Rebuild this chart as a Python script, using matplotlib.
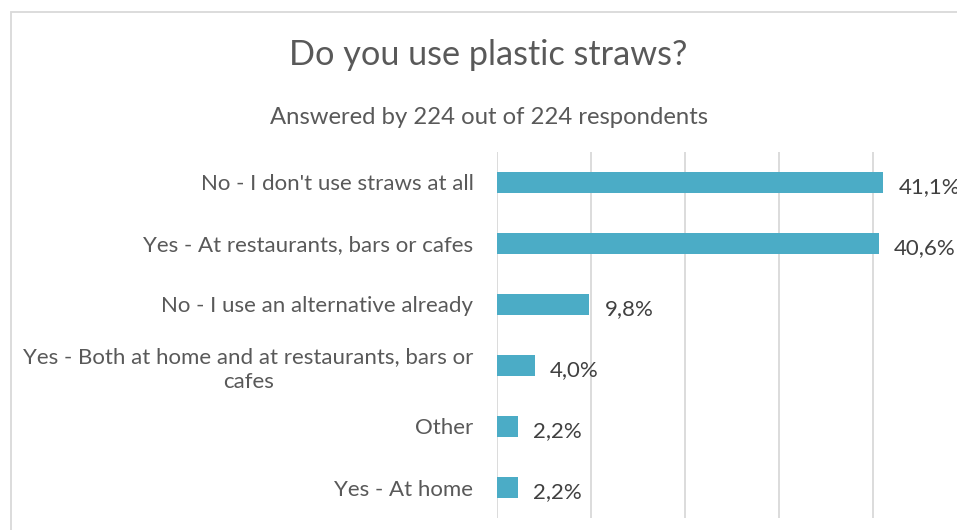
import matplotlib.pyplot as plt
from matplotlib.patches import Rectangle

# survey answers, top to bottom
answers = [
    "No - I don't use straws at all",
    "Yes - At restaurants, bars or cafes",
    "No - I use an alternative already",
    "Yes - Both at home and at restaurants, bars or\ncafes",
    "Other",
    "Yes - At home",
]
shares = [41.1, 40.6, 9.8, 4.0, 2.2, 2.2]
grid_ticks = [0, 10, 20, 30, 40, 50]

plt.rcParams['font.family'] = ['Lato', 'DejaVu Sans']
text_grey = '#595959'
bar_blue = '#4BACC6'
line_grey = '#D9D9D9'

W, H = 957, 530
fig = plt.figure(figsize=(W / 100, H / 100), dpi=100)

# chart frame (runs off the right and bottom of the image)
fig.patches.append(Rectangle((11 / W, -0.1), 1.2, 1 - 12 / H + 0.1,
                             transform=fig.transFigure, fill=False,
                             edgecolor=line_grey, linewidth=1.3))

ax = fig.add_axes([497 / W, 1 - 518 / H, 470 / W, 366 / H])
ypos = list(range(len(answers)))
ax.barh(ypos, shares, height=0.34, color=bar_blue, zorder=3)
ax.set_xlim(0, 50)
ax.set_ylim(len(answers) - 0.5, -0.5)
ax.set_xticks(grid_ticks)
ax.grid(axis='x', color=line_grey, linewidth=1.3, zorder=0)
ax.set_axisbelow(True)
ax.tick_params(axis='x', length=0, labelbottom=False)
ax.tick_params(axis='y', length=0, pad=17)
ax.set_yticks(ypos)
ax.set_yticklabels(answers, fontsize=16, color=text_grey, multialignment='center',
                   linespacing=1.3)
for s in ax.spines.values():
    s.set_visible(False)
ax.patch.set_alpha(0)

for y, v in zip(ypos, shares):
    ax.annotate(f"{v:.1f}".replace('.', ',') + '%', (v, y), xytext=(11, -3),
                textcoords='offset points', ha='left', va='center',
                fontsize=16, color='#404040')

fig.text(488 / W, 1 - 55 / H, "Do you use plastic straws?", ha='center', va='center',
         fontsize=24.7, color=text_grey)
fig.text(489 / W, 1 - 118 / H, "Answered by 224 out of 224 respondents", ha='center',
         va='center', fontsize=17.2, color=text_grey)

fig.savefig('out.png', dpi=100)
